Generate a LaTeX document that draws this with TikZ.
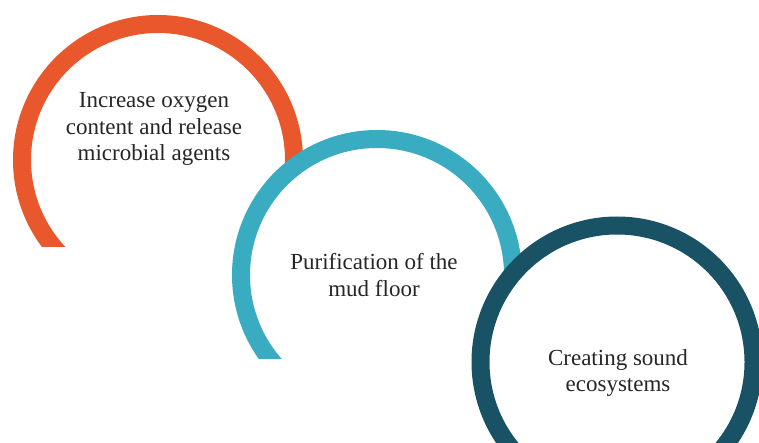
\documentclass[tikz,border=0pt]{standalone}
\usepackage{fontspec}
\setmainfont{Liberation Serif}
\definecolor{ringorange}{RGB}{232,88,44}
\definecolor{ringteal}{RGB}{58,172,194}
\definecolor{ringdark}{RGB}{24,82,100}
\begin{document}
\begin{tikzpicture}[x=1pt,y=-1pt,
  ring/.style={circle, inner sep=0pt, outer sep=0pt, minimum size=272pt,
               line width=18pt, fill=white},
  ringtext/.style={align=center, inner sep=0pt, text=black!85,
                   font=\fontsize{23}{26.5}\selectfont}]
\useasboundingbox (0,0) rectangle (759,443);
\fill[white] (0,0) rectangle (759,443);

% first ring, open at the bottom
\begin{scope}
  \clip (0,0) rectangle (759,247);
  \node[ring, draw=ringorange] (ringA) at (158,160) {};
\end{scope}
\node[ringtext] (textA) at (154,129)
  {Increase oxygen\\content and release\\microbial agents};

% second ring, laid over the first
\begin{scope}
  \clip (0,0) rectangle (759,358);
  \node[ring, draw=ringteal] (ringB) at (377,275) {};
\end{scope}
\node[ringtext] (textB) at (374,275) {Purification of the\\mud floor};

% third ring, on top
\node[ring, draw=ringdark, minimum size=273pt] (ringC) at (617,362) {};
\node[ringtext] (textC) at (618,373) {Creating sound\\ecosystems};
\end{tikzpicture}
\end{document}
